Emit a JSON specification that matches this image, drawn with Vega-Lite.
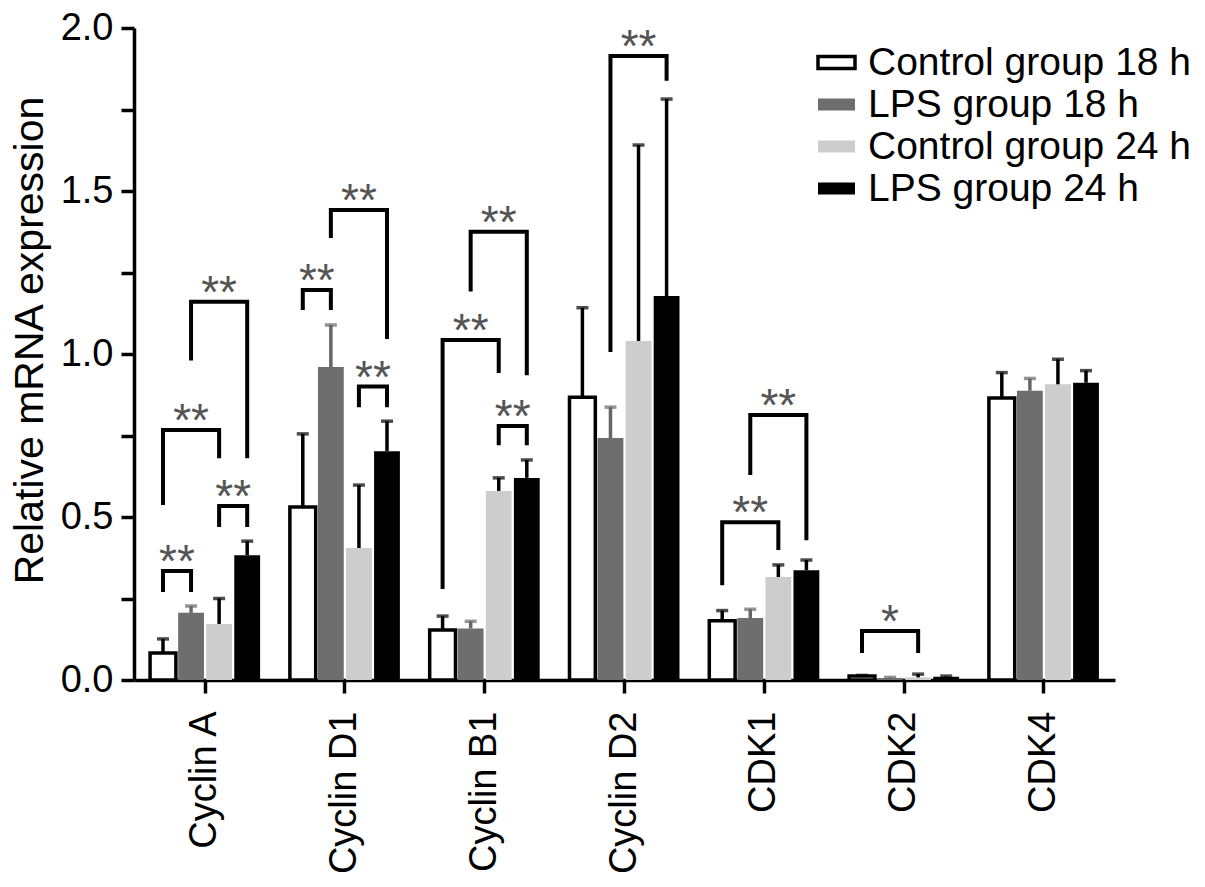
{
  "$schema": "https://vega.github.io/schema/vega-lite/v6.json",
  "width": 981,
  "height": 652,
  "autosize": "none",
  "padding": {"left": 134, "top": 28, "right": 90, "bottom": 207},
  "background": "white",
  "config": {
    "font": "Liberation Sans",
    "view": {"stroke": null},
    "axis": {"zindex": 1}
  },
  "datasets": {
    "bars": [
      {"gene": "Cyclin A", "group": "Control group 18 h", "value": 0.083, "upper": 0.126},
      {"gene": "Cyclin A", "group": "LPS group 18 h", "value": 0.206, "upper": 0.227},
      {"gene": "Cyclin A", "group": "Control group 24 h", "value": 0.172, "upper": 0.25},
      {"gene": "Cyclin A", "group": "LPS group 24 h", "value": 0.383, "upper": 0.426},
      {"gene": "Cyclin D1", "group": "Control group 18 h", "value": 0.531, "upper": 0.755},
      {"gene": "Cyclin D1", "group": "LPS group 18 h", "value": 0.96, "upper": 1.089},
      {"gene": "Cyclin D1", "group": "Control group 24 h", "value": 0.405, "upper": 0.598},
      {"gene": "Cyclin D1", "group": "LPS group 24 h", "value": 0.702, "upper": 0.794},
      {"gene": "Cyclin B1", "group": "Control group 18 h", "value": 0.153, "upper": 0.196},
      {"gene": "Cyclin B1", "group": "LPS group 18 h", "value": 0.158, "upper": 0.18},
      {"gene": "Cyclin B1", "group": "Control group 24 h", "value": 0.58, "upper": 0.62},
      {"gene": "Cyclin B1", "group": "LPS group 24 h", "value": 0.62, "upper": 0.675},
      {"gene": "Cyclin D2", "group": "Control group 18 h", "value": 0.867, "upper": 1.142},
      {"gene": "Cyclin D2", "group": "LPS group 18 h", "value": 0.742, "upper": 0.837},
      {"gene": "Cyclin D2", "group": "Control group 24 h", "value": 1.04, "upper": 1.641},
      {"gene": "Cyclin D2", "group": "LPS group 24 h", "value": 1.178, "upper": 1.782},
      {"gene": "CDK1", "group": "Control group 18 h", "value": 0.182, "upper": 0.213},
      {"gene": "CDK1", "group": "LPS group 18 h", "value": 0.19, "upper": 0.217},
      {"gene": "CDK1", "group": "Control group 24 h", "value": 0.316, "upper": 0.353},
      {"gene": "CDK1", "group": "LPS group 24 h", "value": 0.337, "upper": 0.368},
      {"gene": "CDK2", "group": "Control group 18 h", "value": 0.012, "upper": 0.014},
      {"gene": "CDK2", "group": "LPS group 18 h", "value": 0.006, "upper": 0.008},
      {"gene": "CDK2", "group": "Control group 24 h", "value": 0.008, "upper": 0.018},
      {"gene": "CDK2", "group": "LPS group 24 h", "value": 0.01, "upper": 0.012},
      {"gene": "CDK4", "group": "Control group 18 h", "value": 0.865, "upper": 0.943},
      {"gene": "CDK4", "group": "LPS group 18 h", "value": 0.887, "upper": 0.925},
      {"gene": "CDK4", "group": "Control group 24 h", "value": 0.907, "upper": 0.984},
      {"gene": "CDK4", "group": "LPS group 24 h", "value": 0.912, "upper": 0.949}
    ],
    "brackets": [
      {"id": 1, "o": 1, "gene": "Cyclin A", "group": "Control group 18 h", "value": 0.27},
      {"id": 1, "o": 2, "gene": "Cyclin A", "group": "Control group 18 h", "value": 0.334},
      {"id": 1, "o": 3, "gene": "Cyclin A", "group": "LPS group 18 h", "value": 0.334},
      {"id": 1, "o": 4, "gene": "Cyclin A", "group": "LPS group 18 h", "value": 0.27},
      {"id": 2, "o": 1, "gene": "Cyclin A", "group": "Control group 18 h", "value": 0.537},
      {"id": 2, "o": 2, "gene": "Cyclin A", "group": "Control group 18 h", "value": 0.767},
      {"id": 2, "o": 3, "gene": "Cyclin A", "group": "Control group 24 h", "value": 0.767},
      {"id": 2, "o": 4, "gene": "Cyclin A", "group": "Control group 24 h", "value": 0.68},
      {"id": 3, "o": 1, "gene": "Cyclin A", "group": "Control group 24 h", "value": 0.469},
      {"id": 3, "o": 2, "gene": "Cyclin A", "group": "Control group 24 h", "value": 0.534},
      {"id": 3, "o": 3, "gene": "Cyclin A", "group": "LPS group 24 h", "value": 0.534},
      {"id": 3, "o": 4, "gene": "Cyclin A", "group": "LPS group 24 h", "value": 0.469},
      {"id": 4, "o": 1, "gene": "Cyclin A", "group": "LPS group 18 h", "value": 0.98},
      {"id": 4, "o": 2, "gene": "Cyclin A", "group": "LPS group 18 h", "value": 1.16},
      {"id": 4, "o": 3, "gene": "Cyclin A", "group": "LPS group 24 h", "value": 1.16},
      {"id": 4, "o": 4, "gene": "Cyclin A", "group": "LPS group 24 h", "value": 0.68},
      {"id": 5, "o": 1, "gene": "Cyclin D1", "group": "Control group 18 h", "value": 1.135},
      {"id": 5, "o": 2, "gene": "Cyclin D1", "group": "Control group 18 h", "value": 1.196},
      {"id": 5, "o": 3, "gene": "Cyclin D1", "group": "LPS group 18 h", "value": 1.196},
      {"id": 5, "o": 4, "gene": "Cyclin D1", "group": "LPS group 18 h", "value": 1.135},
      {"id": 6, "o": 1, "gene": "Cyclin D1", "group": "LPS group 18 h", "value": 1.356},
      {"id": 6, "o": 2, "gene": "Cyclin D1", "group": "LPS group 18 h", "value": 1.442},
      {"id": 6, "o": 3, "gene": "Cyclin D1", "group": "LPS group 24 h", "value": 1.442},
      {"id": 6, "o": 4, "gene": "Cyclin D1", "group": "LPS group 24 h", "value": 1.046},
      {"id": 7, "o": 1, "gene": "Cyclin D1", "group": "Control group 24 h", "value": 0.837},
      {"id": 7, "o": 2, "gene": "Cyclin D1", "group": "Control group 24 h", "value": 0.9},
      {"id": 7, "o": 3, "gene": "Cyclin D1", "group": "LPS group 24 h", "value": 0.9},
      {"id": 7, "o": 4, "gene": "Cyclin D1", "group": "LPS group 24 h", "value": 0.837},
      {"id": 8, "o": 1, "gene": "Cyclin B1", "group": "Control group 18 h", "value": 0.279},
      {"id": 8, "o": 2, "gene": "Cyclin B1", "group": "Control group 18 h", "value": 1.043},
      {"id": 8, "o": 3, "gene": "Cyclin B1", "group": "Control group 24 h", "value": 1.043},
      {"id": 8, "o": 4, "gene": "Cyclin B1", "group": "Control group 24 h", "value": 0.942},
      {"id": 9, "o": 1, "gene": "Cyclin B1", "group": "LPS group 18 h", "value": 1.192},
      {"id": 9, "o": 2, "gene": "Cyclin B1", "group": "LPS group 18 h", "value": 1.375},
      {"id": 9, "o": 3, "gene": "Cyclin B1", "group": "LPS group 24 h", "value": 1.375},
      {"id": 9, "o": 4, "gene": "Cyclin B1", "group": "LPS group 24 h", "value": 0.935},
      {"id": 10, "o": 1, "gene": "Cyclin B1", "group": "Control group 24 h", "value": 0.72},
      {"id": 10, "o": 2, "gene": "Cyclin B1", "group": "Control group 24 h", "value": 0.779},
      {"id": 10, "o": 3, "gene": "Cyclin B1", "group": "LPS group 24 h", "value": 0.779},
      {"id": 10, "o": 4, "gene": "Cyclin B1", "group": "LPS group 24 h", "value": 0.72},
      {"id": 11, "o": 1, "gene": "Cyclin D2", "group": "LPS group 18 h", "value": 1.006},
      {"id": 11, "o": 2, "gene": "Cyclin D2", "group": "LPS group 18 h", "value": 1.914},
      {"id": 11, "o": 3, "gene": "Cyclin D2", "group": "LPS group 24 h", "value": 1.914},
      {"id": 11, "o": 4, "gene": "Cyclin D2", "group": "LPS group 24 h", "value": 1.838},
      {"id": 12, "o": 1, "gene": "CDK1", "group": "Control group 18 h", "value": 0.291},
      {"id": 12, "o": 2, "gene": "CDK1", "group": "Control group 18 h", "value": 0.484},
      {"id": 12, "o": 3, "gene": "CDK1", "group": "Control group 24 h", "value": 0.484},
      {"id": 12, "o": 4, "gene": "CDK1", "group": "Control group 24 h", "value": 0.399},
      {"id": 13, "o": 1, "gene": "CDK1", "group": "LPS group 18 h", "value": 0.629},
      {"id": 13, "o": 2, "gene": "CDK1", "group": "LPS group 18 h", "value": 0.813},
      {"id": 13, "o": 3, "gene": "CDK1", "group": "LPS group 24 h", "value": 0.813},
      {"id": 13, "o": 4, "gene": "CDK1", "group": "LPS group 24 h", "value": 0.429},
      {"id": 14, "o": 1, "gene": "CDK2", "group": "Control group 18 h", "value": 0.083},
      {"id": 14, "o": 2, "gene": "CDK2", "group": "Control group 18 h", "value": 0.15},
      {"id": 14, "o": 3, "gene": "CDK2", "group": "Control group 24 h", "value": 0.15},
      {"id": 14, "o": 4, "gene": "CDK2", "group": "Control group 24 h", "value": 0.083}
    ],
    "stars": [
      {"gene": "Cyclin A", "pos": "C18-L18", "value": 0.334, "t": "**"},
      {"gene": "Cyclin A", "pos": "L18", "value": 0.767, "t": "**"},
      {"gene": "Cyclin A", "pos": "C24-L24", "value": 0.534, "t": "**"},
      {"gene": "Cyclin A", "pos": "C24", "value": 1.16, "t": "**"},
      {"gene": "Cyclin D1", "pos": "C18-L18", "value": 1.196, "t": "**"},
      {"gene": "Cyclin D1", "pos": "C24", "value": 1.442, "t": "**"},
      {"gene": "Cyclin D1", "pos": "C24-L24", "value": 0.9, "t": "**"},
      {"gene": "Cyclin B1", "pos": "L18", "value": 1.043, "t": "**"},
      {"gene": "Cyclin B1", "pos": "C24", "value": 1.375, "t": "**"},
      {"gene": "Cyclin B1", "pos": "C24-L24", "value": 0.779, "t": "**"},
      {"gene": "Cyclin D2", "pos": "C24", "value": 1.914, "t": "**"},
      {"gene": "CDK1", "pos": "L18", "value": 0.484, "t": "**"},
      {"gene": "CDK1", "pos": "C24", "value": 0.813, "t": "**"},
      {"gene": "CDK2", "pos": "L18", "value": 0.15, "t": "*"}
    ]
  },
  "encoding": {
    "x": {
      "field": "gene", "type": "nominal",
      "sort": ["Cyclin A", "Cyclin D1", "Cyclin B1", "Cyclin D2", "CDK1", "CDK2", "CDK4"],
      "scale": {"domain": ["Cyclin A", "Cyclin D1", "Cyclin B1", "Cyclin D2", "CDK1", "CDK2", "CDK4"], "paddingInner": 0.213, "paddingOuter": 0.115},
      "axis": {
        "title": null, "labelAngle": -90, "labelFontSize": 38, "labelColor": "black", "labelPadding": 18,
        "domainColor": "black", "domainWidth": 3.5, "tickColor": "black", "tickWidth": 3.5, "tickSize": 13
      }
    },
    "y": {
      "field": "value", "type": "quantitative",
      "scale": {"domain": [0, 2], "nice": false},
      "axis": {
        "title": "Relative mRNA expression", "titleFontSize": 41, "titleFontWeight": "normal", "titleColor": "black", "titlePadding": 9,
        "titleY": 312,
        "values": [0, 0.25, 0.5, 0.75, 1, 1.25, 1.5, 1.75, 2],
        "labelExpr": "round(datum.value * 4) % 2 == 0 ? format(datum.value, '.1f') : ''",
        "labelFontSize": 38, "labelColor": "black", "labelPadding": 8, "grid": false,
        "domainColor": "black", "domainWidth": 3.5, "tickColor": "black", "tickWidth": 3.5, "tickSize": 13
      }
    }
  },
  "resolve": {"scale": {"xOffset": "independent"}},
  "layer": [
    {
      "encoding": {
        "xOffset": {
          "field": "group", "type": "nominal",
          "sort": ["Control group 18 h", "LPS group 18 h", "Control group 24 h", "LPS group 24 h"],
          "scale": {"domain": ["Control group 18 h", "LPS group 18 h", "Control group 24 h", "LPS group 24 h"], "paddingInner": 0.08, "paddingOuter": 0}
        }
      },
      "layer": [
        {
          "data": {"name": "bars"},
          "mark": {"type": "bar", "strokeWidth": 3.5},
          "encoding": {
            "fill": {
              "field": "group", "type": "nominal",
              "scale": {"domain": ["Control group 18 h", "LPS group 18 h", "Control group 24 h", "LPS group 24 h"], "range": ["white", "#6e6e6e", "#cdcdcd", "black"]},
              "legend": {
                "title": null, "orient": "none", "legendX": 682, "legendY": 14,
                "padding": 0, "labelFontSize": 39, "labelColor": "black", "labelLimit": 500, "labelOffset": 11,
                "symbolType": "M-1,-0.33H1V0.33H-1Z", "symbolSize": 1369, "symbolStrokeWidth": 3.5, "rowPadding": 1
              }
            },
            "stroke": {
              "field": "group", "type": "nominal",
              "scale": {"domain": ["Control group 18 h", "LPS group 18 h", "Control group 24 h", "LPS group 24 h"], "range": ["black", "transparent", "transparent", "transparent"]},
              "legend": {
                "title": null, "orient": "none", "legendX": 682, "legendY": 14,
                "padding": 0, "labelFontSize": 39, "labelColor": "black", "labelLimit": 500, "labelOffset": 11,
                "symbolType": "M-1,-0.33H1V0.33H-1Z", "symbolSize": 1369, "symbolStrokeWidth": 3.5, "rowPadding": 1
              }
            }
          }
        },
        {
          "data": {"name": "bars"},
          "mark": {"type": "rule", "strokeWidth": 3.5},
          "encoding": {
            "y2": {"field": "upper"},
            "color": {"condition": {"test": "datum.group === 'LPS group 18 h'", "value": "#666666"}, "value": "black"}
          }
        },
        {
          "data": {"name": "bars"},
          "mark": {"type": "tick", "size": 12, "thickness": 3.5},
          "encoding": {
            "y": {"field": "upper", "type": "quantitative"},
            "color": {"condition": {"test": "datum.group === 'LPS group 18 h'", "value": "#666666"}, "value": "black"}
          }
        },
        {
          "data": {"name": "brackets"},
          "mark": {"type": "line", "color": "black", "strokeWidth": 4, "strokeJoin": "miter"},
          "encoding": {
            "detail": {"field": "id", "type": "nominal"},
            "order": {"field": "o", "type": "quantitative"}
          }
        }
      ]
    },
    {
      "data": {"name": "stars"},
      "mark": {"type": "text", "fontSize": 46, "color": "#555555", "baseline": "alphabetic", "align": "center", "dy": 6},
      "encoding": {
        "xOffset": {
          "field": "pos", "type": "nominal",
          "scale": {"type": "point", "domain": ["C18", "C18-L18", "L18", "L18-C24", "C24", "C24-L24", "L24"], "padding": 0.92}
        },
        "text": {"field": "t"}
      }
    }
  ]
}
